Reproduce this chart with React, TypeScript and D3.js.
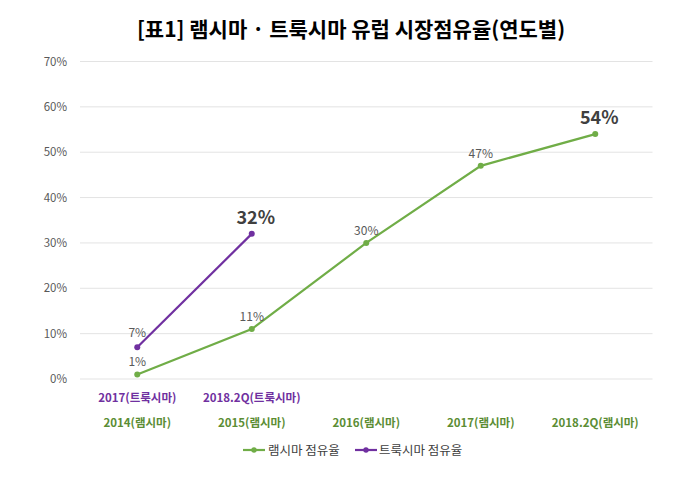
import React from "react";
import * as d3 from "d3";

const categories = ["2014", "2015", "2016", "2017", "2018.2Q"];
const remsimaLabels = ["2014(램시마)", "2015(램시마)", "2016(램시마)", "2017(램시마)", "2018.2Q(램시마)"];
const truximaLabels = ["2017(트룩시마)", "2018.2Q(트룩시마)"];
const remsimaValues = [1, 11, 30, 47, 54];
const truximaValues = [7, 32];
const yTicks = [0, 10, 20, 30, 40, 50, 60, 70];

const W = 700, H = 483;
const GREEN = "#70ad47";
const PURPLE = "#7030a0";
const FONT = "'Noto Sans CJK KR', 'Noto Sans', sans-serif";

export default function App() {
  const x = d3.scaleBand<number>().domain(d3.range(categories.length)).range([80, 652.5]);
  const y = d3.scaleLinear().domain([0, 70]).range([379, 61.5]);
  const cx = (i: number) => (x(i) as number) + x.bandwidth() / 2;

  const line = d3.line<number>().x((_, i) => cx(i)).y((d) => y(d));

  const lastR = remsimaValues.length - 1;
  const lastT = truximaValues.length - 1;

  return (
    <svg width={W} height={H} style={{ position: "absolute", left: 0, top: 0, fontFamily: FONT }}>
      <rect width={W} height={H} fill="#fff" />
      <text x={351} y={37} textAnchor="middle" fontSize={21} fontWeight="bold" fill="#000">
        [표1] 램시마 · 트룩시마 유럽 시장점유율(연도별)
      </text>
      {yTicks.map((t) => (
        <g key={t}>
          <line x1={80} x2={652.5} y1={y(t)} y2={y(t)} stroke="#e3e3e3" strokeWidth={1} />
          <text x={67} y={y(t) + 4} textAnchor="end" fontSize={11.5} fill="#595959">
            {t}%
          </text>
        </g>
      ))}
      <path d={line(remsimaValues) || ""} fill="none" stroke={GREEN} strokeWidth={2.2} />
      <path d={line(truximaValues) || ""} fill="none" stroke={PURPLE} strokeWidth={2.2} />
      {remsimaValues.map((v, i) => (
        <circle key={"r" + i} cx={cx(i)} cy={y(v)} r={3} fill={GREEN} />
      ))}
      {truximaValues.map((v, i) => (
        <circle key={"t" + i} cx={cx(i)} cy={y(v)} r={3} fill={PURPLE} />
      ))}
      {remsimaValues.map((v, i) =>
        i === lastR ? (
          <text key={"rl" + i} x={cx(i) + 4} y={y(v) - 10} textAnchor="middle" fontSize={18} fontWeight="bold" fill="#404040">
            {v}%
          </text>
        ) : (
          <text key={"rl" + i} x={cx(i)} y={y(v) - 8} textAnchor="middle" fontSize={12} fill="#595959">
            {v}%
          </text>
        )
      )}
      {truximaValues.map((v, i) =>
        i === lastT ? (
          <text key={"tl" + i} x={cx(i) + 4} y={y(v) - 10} textAnchor="middle" fontSize={18} fontWeight="bold" fill="#404040">
            {v}%
          </text>
        ) : (
          <text key={"tl" + i} x={cx(i)} y={y(v) - 10} textAnchor="middle" fontSize={12} fill="#595959">
            {v}%
          </text>
        )
      )}
      {truximaLabels.map((l, i) => (
        <text key={"tx" + i} x={cx(i)} y={402} textAnchor="middle" fontSize={11.5} fontWeight="bold" fill={PURPLE}>
          {l}
        </text>
      ))}
      {remsimaLabels.map((l, i) => (
        <text key={"rx" + i} x={cx(i)} y={427} textAnchor="middle" fontSize={11.5} fontWeight="bold" fill="#5b8d34">
          {l}
        </text>
      ))}
      <g>
        <line x1={243} x2={265} y1={450} y2={450} stroke={GREEN} strokeWidth={2.2} />
        <circle cx={254} cy={450} r={2.7} fill={GREEN} />
        <text x={268} y={454.5} fontSize={12.5} fill="#404040">램시마 점유율</text>
        <line x1={355} x2={377} y1={450} y2={450} stroke={PURPLE} strokeWidth={2.2} />
        <circle cx={366} cy={450} r={2.7} fill={PURPLE} />
        <text x={379} y={454.5} fontSize={12.5} fill="#404040">트룩시마 점유율</text>
      </g>
    </svg>
  );
}
